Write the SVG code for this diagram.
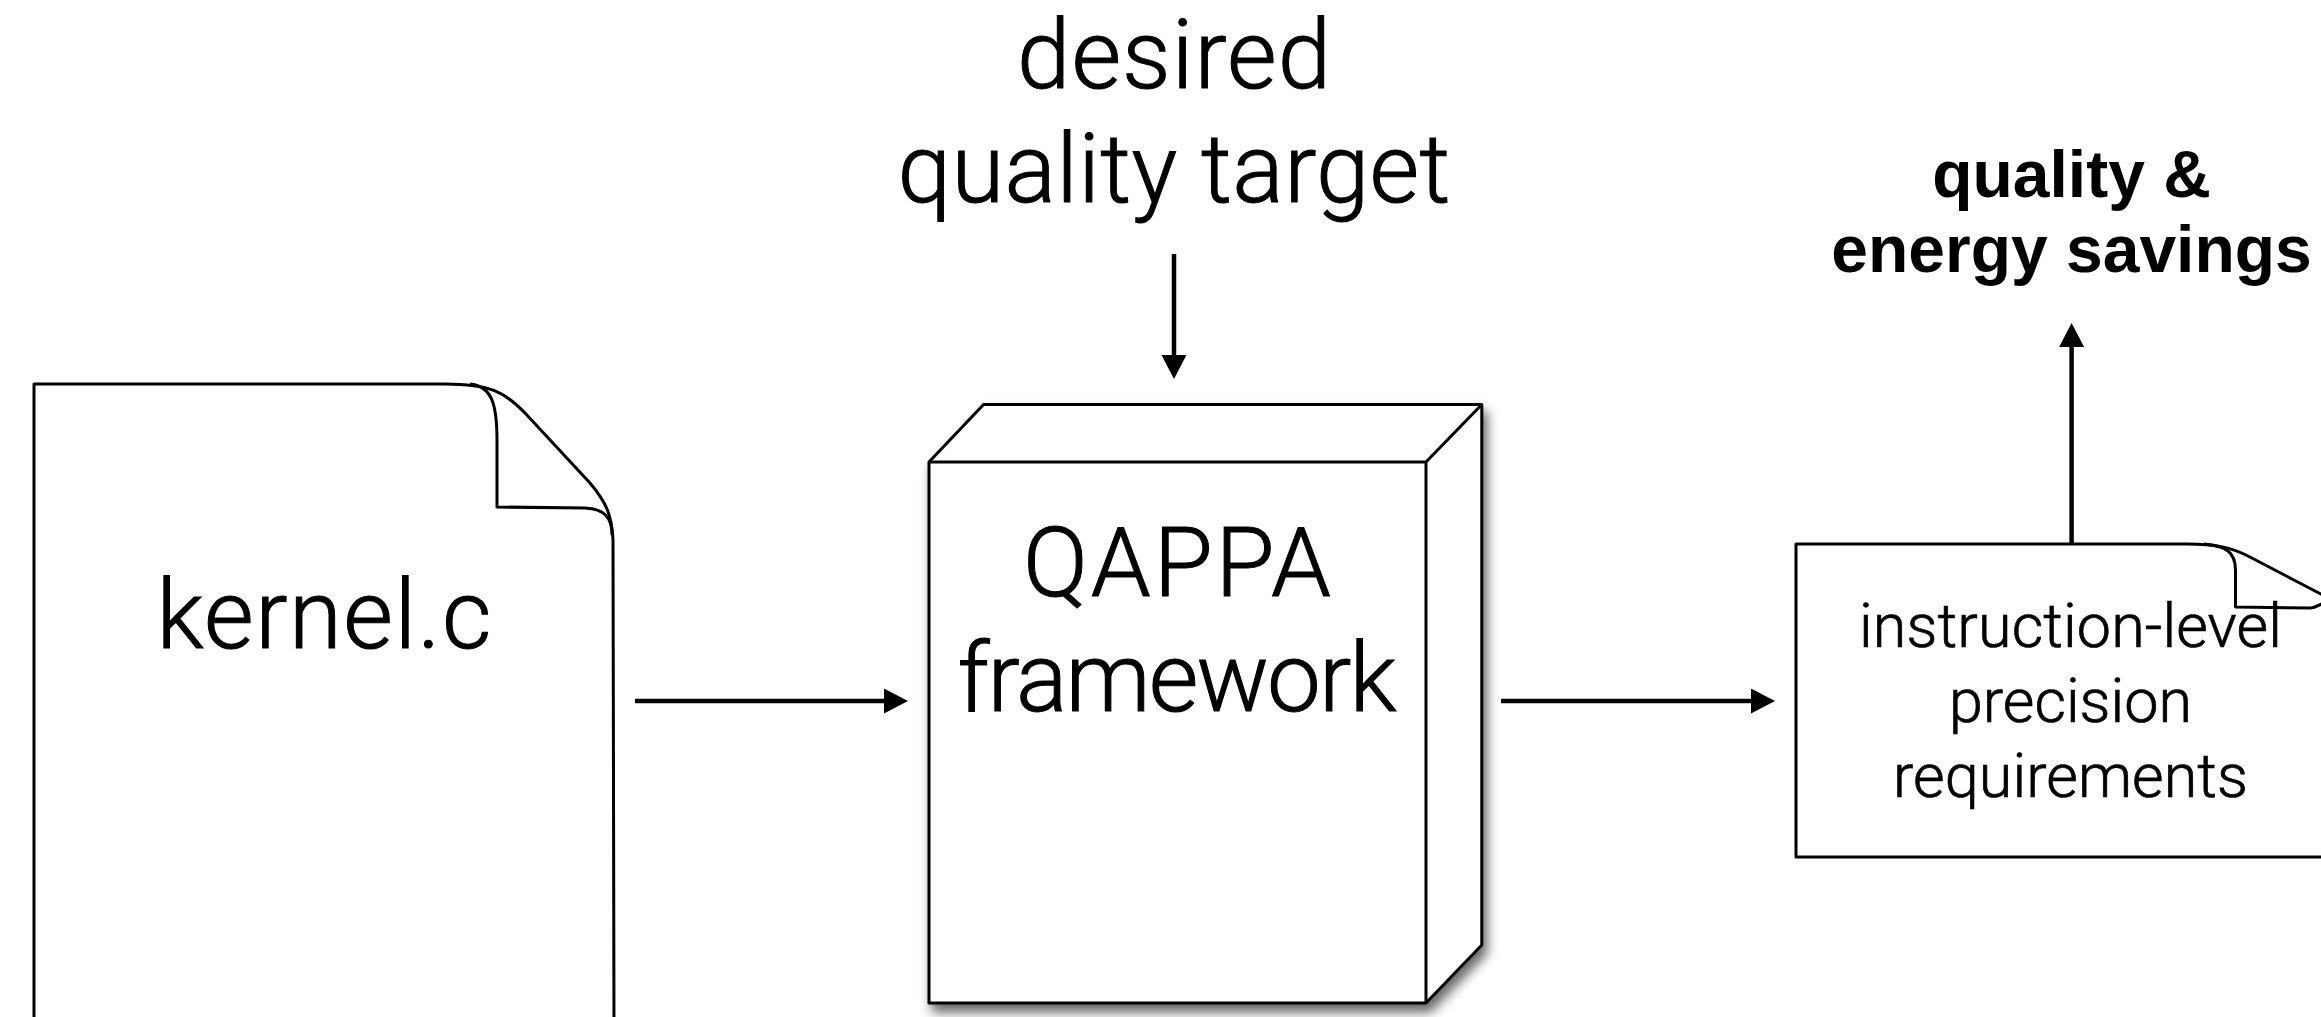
<svg xmlns="http://www.w3.org/2000/svg" width="2321" height="1017" viewBox="0 0 2321 1017">
  <style>
    .shape { fill: #ffffff; stroke: #000000; stroke-width: 3; stroke-linejoin: round; }
    .fold { fill: none; stroke: #000000; stroke-width: 3; stroke-linejoin: round; }
    .conn { stroke: #000000; stroke-width: 4.5; fill: none; }
    .lbl { font-family: Roboto, "Liberation Sans", Arial, sans-serif; font-weight: 300; fill: #000000; stroke: #000000; stroke-width: 1; text-anchor: middle; }
    .big { font-size: 96px; }
    .mid { font-size: 61px; stroke-width: 0.7; }
    .bold { font-family: "Liberation Sans", Arial, sans-serif; font-weight: 700; font-size: 66px; fill: #000000; text-anchor: middle; }
  </style>
  <defs>
    <marker id="arrow" markerUnits="userSpaceOnUse" markerWidth="26" markerHeight="26" refX="0" refY="12.5" orient="auto" viewBox="0 0 26 26">
      <path d="M0,0 L24,12.5 L0,25 z" fill="#000000"/>
    </marker>
    <filter id="shadow" x="-10%" y="-10%" width="130%" height="130%">
      <feDropShadow dx="4" dy="8" stdDeviation="6" flood-color="#000000" flood-opacity="0.6"/>
    </filter>
  </defs>
  <rect width="2321" height="1017" fill="#ffffff"/>

  <g id="kernel">
    <path class="shape" d="M34,1030 L34,384 L445,384 C490,384 505,392 525,413 L590,483 C606,502 612,515 613,540 L614,1030"/>
    <path class="fold" d="M470,384 C490,386 497,400 497,440 L497,507 L585,508 C605,509 612,518 612,535"/>
    <text class="lbl big" x="324" y="648" textLength="335" lengthAdjust="spacing">kernel.c</text>
  </g>

  <g id="qappa">
    <path class="shape" filter="url(#shadow)" d="M929,462 L983.6,404.5 L1481.8,404.5 L1481.8,945 L1426,1003 L929,1003 Z"/>
    <path class="fold" d="M929,462 L1426,462 L1481.8,404.5 M1426,462 L1426,1003"/>
    <text class="lbl big" x="1177" y="596" textLength="308" lengthAdjust="spacing">QAPPA</text>
    <text class="lbl big" x="1177" y="711" textLength="439" lengthAdjust="spacing">framework</text>
  </g>

  <g id="target">
    <text class="lbl big" x="1174" y="88" textLength="314" lengthAdjust="spacing">desired</text>
    <text class="lbl big" x="1174" y="202" textLength="553" lengthAdjust="spacing">quality target</text>
  </g>

  <g id="requirements">
    <path class="shape" d="M2340,857 L1796,857 L1796,544 L2187,544 C2215,544 2230,547 2248,556 L2340,604"/>
    <path class="fold" d="M2204,544 C2226,546 2235.5,552 2235.5,570 L2235.5,607 L2310,608 C2316,608 2320,604 2330,600"/>
    <text class="lbl mid" x="2070.5" y="647" textLength="423" lengthAdjust="spacing">instruction-level</text>
    <text class="lbl mid" x="2070.5" y="722" textLength="243" lengthAdjust="spacing">precision</text>
    <text class="lbl mid" x="2070.5" y="797" textLength="355" lengthAdjust="spacing">requirements</text>
  </g>

  <g id="savings">
    <text class="bold" x="2071.5" y="197">quality &amp;</text>
    <text class="bold" x="2071.5" y="272">energy savings</text>
  </g>

  <g id="connectors">
    <line class="conn" x1="635" y1="701" x2="884" y2="701" marker-end="url(#arrow)"/>
    <line class="conn" x1="1501" y1="701" x2="1751" y2="701" marker-end="url(#arrow)"/>
    <line class="conn" x1="1174" y1="254" x2="1174" y2="355" marker-end="url(#arrow)"/>
    <line class="conn" x1="2071.6" y1="544" x2="2071.6" y2="347" marker-end="url(#arrow)"/>
  </g>
</svg>
